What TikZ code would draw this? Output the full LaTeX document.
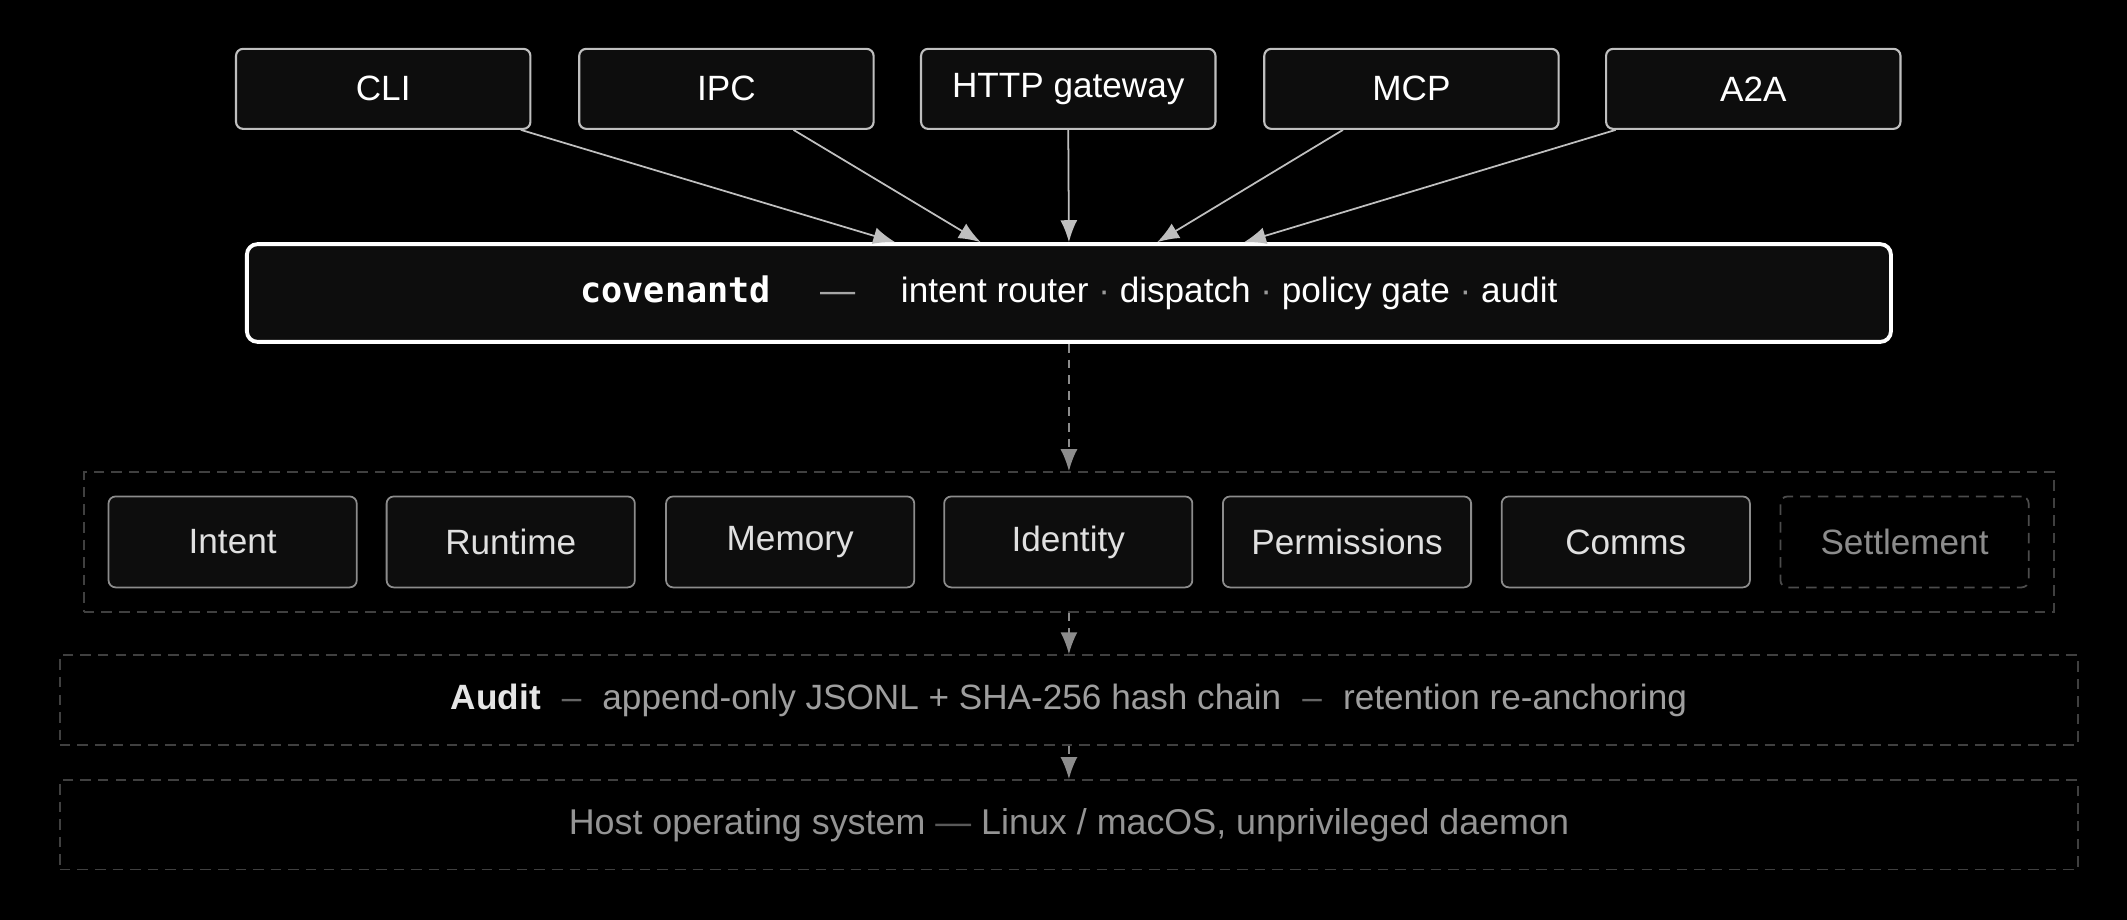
\documentclass[tikz,border=0pt]{standalone}
\usepackage{fontspec}
\setmainfont{Liberation Sans}
\setmonofont{DejaVu Sans Mono}
\usetikzlibrary{arrows.meta}
\definecolor{bg}{HTML}{000000}
\definecolor{boxfill}{HTML}{0D0D0D}
\begin{document}
\begin{tikzpicture}[x=0.013565cm,y=-0.013565cm,
  top/.style={draw=white!75!black,line width=0.6pt,rounded corners=2pt,fill=boxfill,minimum width=2.944cm,minimum height=0.8cm,text=white,font=\fontsize{10}{12}\selectfont},
  mod/.style={draw=white!55!black,line width=0.5pt,rounded corners=2pt,fill=boxfill,minimum width=2.482cm,minimum height=0.909cm,text=white!88!black,font=\fontsize{10}{12}\selectfont},
  dbox/.style={draw=white!25!black,dashed,line width=0.5pt,dash pattern=on 3pt off 2pt},
  arr/.style={draw=white!75!black,line width=0.5pt,-{Latex[length=2.2mm,width=1.7mm]}},
  darr/.style={draw=white!55!black,line width=0.5pt,dash pattern=on 2.5pt off 2pt,-{Latex[length=2.2mm,width=1.7mm]}}]
\fill[bg] (0,0) rectangle (1568,678);
\useasboundingbox (0,0) rectangle (1568,678);
\node[top] (cli) at (282.5,65.5) {CLI};
\node[top] (ipc) at (535.5,65.5) {IPC};
\node[top] (http) at (787.5,65.5) {HTTP gateway};
\node[top] (mcp) at (1040.5,65.5) {MCP};
\node[top] (a2a) at (1292.5,65.5) {A2A};
\node[draw=white,line width=1.1pt,rounded corners=3pt,fill=boxfill,minimum width=16.44cm,minimum height=0.977cm,text=white,font=\fontsize{10}{12}\selectfont] (core) at (788,216)
 {{\ttfamily\bfseries covenantd}\hspace{1.4em}{\color{white!65!black}—}\hspace{1.3em}intent router {\color{white!60!black}·} dispatch {\color{white!60!black}·} policy gate {\color{white!60!black}·} audit};
\draw[arr] ([xshift=1.377cm]cli.south) -- ([xshift=-1.736cm]core.north);
\draw[arr] ([xshift=0.671cm]ipc.south) -- ([xshift=-0.882cm]core.north);
\draw[arr] (http.south) -- (core.north);
\draw[arr] ([xshift=-0.685cm]mcp.south) -- ([xshift=0.882cm]core.north);
\draw[arr] ([xshift=-1.377cm]a2a.south) -- ([xshift=1.75cm]core.north);
\node[dbox,minimum width=19.70cm,minimum height=1.397cm] (layer) at (788,399.5) {};
\node[mod] (intent) at (171.5,399.5) {Intent};
\node[mod] (runtime) at (376.5,399.5) {Runtime};
\node[mod] (memory) at (582.5,399.5) {Memory};
\node[mod] (identity) at (787.5,399.5) {Identity};
\node[mod] (perm) at (993,399.5) {Permissions};
\node[mod] (comms) at (1198.5,399.5) {Comms};
\node[mod,draw=white!30!black,fill=bg,dash pattern=on 3pt off 2pt,text=white!55!black] (settle) at (1404,399.5) {Settlement};
\node[dbox,minimum width=20.18cm,minimum height=0.895cm,text=white!62!black,font=\fontsize{10}{12}\selectfont] (audit) at (788,516)
 {{\color{white!90!black}\bfseries Audit}\hspace{0.6em}{\color{white!40!black}–}\hspace{0.6em}append-only JSONL + SHA-256 hash chain\hspace{0.6em}{\color{white!40!black}–}\hspace{0.6em}retention re-anchoring};
\node[dbox,minimum width=20.18cm,minimum height=0.895cm,text=white!58!black,font=\fontsize{10.2}{12}\selectfont] (host) at (788,608)
 {Host operating system {\color{white!35!black}—} Linux / macOS, unprivileged daemon};
\draw[darr] (core.south) -- (layer.north);
\draw[darr] (layer.south) -- (audit.north);
\draw[darr] (audit.south) -- (host.north);
\end{tikzpicture}
\end{document}
